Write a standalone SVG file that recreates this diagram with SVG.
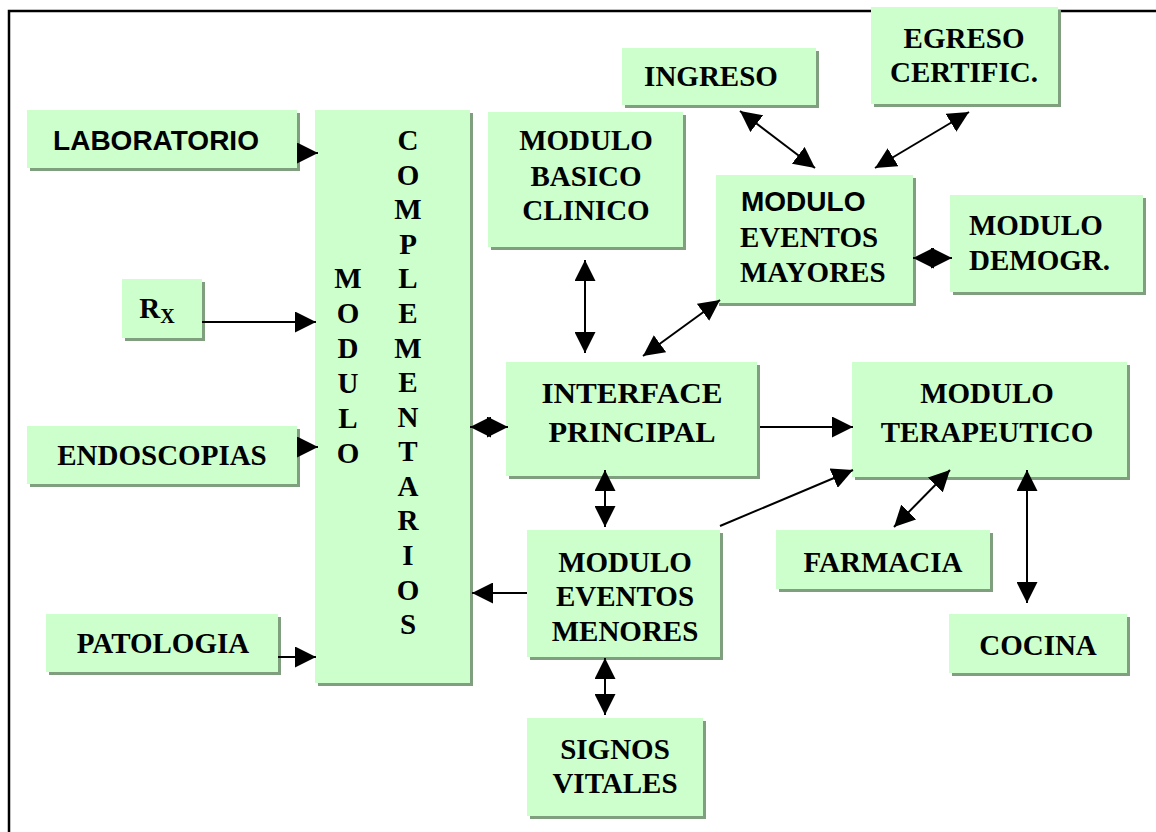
<svg xmlns="http://www.w3.org/2000/svg" width="1156" height="832" viewBox="0 0 1156 832">
<defs>
<style>
.box{fill:#ccffcc;}
.sh{fill:#7f9f7f;}
.t{font-family:"Liberation Serif","Times New Roman",serif;font-weight:bold;font-size:29px;fill:#000;text-anchor:middle;}
.ts{font-family:"Liberation Serif","Times New Roman",serif;font-weight:bold;font-size:29px;fill:#000;text-anchor:start;}
.a{font-family:"Liberation Sans",Arial,sans-serif;font-weight:bold;font-size:28px;fill:#000;}
.c{stroke:#000;stroke-width:2;fill:none;}
</style>
<marker id="ah" markerUnits="userSpaceOnUse" markerWidth="21" markerHeight="21" viewBox="0 0 21 21" refX="21" refY="10.5" orient="auto-start-reverse">
<path d="M0,0 L21,10.5 L0,21 z" fill="#000"/>
</marker>
</defs>
<rect width="1156" height="832" fill="#fff"/>
<path d="M9,832 V11 H1156" stroke="#000" stroke-width="2.5" fill="none"/>

<g id="laboratorio"><rect class="sh" x="30" y="113" width="270" height="58"/><rect class="box" x="27" y="110" width="270" height="58"/><text class="a" x="156" y="150" text-anchor="middle">LABORATORIO</text></g>
<g id="complementarios"><rect class="sh" x="318" y="113" width="155" height="573"/><rect class="box" x="315" y="110" width="155" height="573"/>
<text class="t" x="348" y="288">M</text><text class="t" x="348" y="323">O</text><text class="t" x="348" y="358">D</text><text class="t" x="348" y="393">U</text><text class="t" x="348" y="428">L</text><text class="t" x="348" y="463">O</text>
<text class="t" x="408" y="150">C</text><text class="t" x="408" y="185">O</text><text class="t" x="408" y="219">M</text><text class="t" x="408" y="254">P</text><text class="t" x="408" y="288">L</text><text class="t" x="408" y="323">E</text><text class="t" x="408" y="358">M</text><text class="t" x="408" y="392">E</text><text class="t" x="408" y="427">N</text><text class="t" x="408" y="461">T</text><text class="t" x="408" y="496">A</text><text class="t" x="408" y="530">R</text><text class="t" x="408" y="565">I</text><text class="t" x="408" y="600">O</text><text class="t" x="408" y="634">S</text></g>
<g id="rx"><rect class="sh" x="125" y="282" width="80" height="59"/><rect class="box" x="122" y="279" width="80" height="59"/><text class="t" x="157" y="318">R<tspan font-size="20" dy="5">X</tspan></text></g>
<g id="endoscopias"><rect class="sh" x="30" y="429" width="270" height="58"/><rect class="box" x="27" y="426" width="270" height="58"/><text class="t" x="162" y="465">ENDOSCOPIAS</text></g>
<g id="patologia"><rect class="sh" x="49" y="617" width="232" height="58"/><rect class="box" x="46" y="614" width="232" height="58"/><text class="t" x="163" y="653">PATOLOGIA</text></g>
<g id="basico"><rect class="sh" x="491" y="115" width="195" height="135"/><rect class="box" x="488" y="112" width="195" height="135"/><text class="t" x="586" y="150">MODULO</text><text class="t" x="586" y="186">BASICO</text><text class="t" x="586" y="220">CLINICO</text></g>
<g id="ingreso"><rect class="sh" x="625" y="51" width="194" height="57"/><rect class="box" x="622" y="48" width="194" height="57"/><text class="t" x="711" y="86">INGRESO</text></g>
<g id="egreso"><rect class="sh" x="874" y="10" width="187" height="97"/><rect class="box" x="871" y="7" width="187" height="97"/><text class="t" x="964" y="48">EGRESO</text><text class="t" x="964" y="82">CERTIFIC.</text></g>
<g id="mayores"><rect class="sh" x="719" y="178" width="197" height="128"/><rect class="box" x="716" y="175" width="197" height="128"/><text class="a" x="741" y="211">MODULO</text><text class="ts" x="740" y="247">EVENTOS</text><text class="ts" x="740" y="282">MAYORES</text></g>
<g id="demogr"><rect class="sh" x="953" y="198" width="193" height="97"/><rect class="box" x="950" y="195" width="193" height="97"/><text class="ts" x="969" y="235">MODULO</text><text class="ts" x="969" y="270">DEMOGR.</text></g>
<g id="interface"><rect class="sh" x="509" y="365" width="251" height="114"/><rect class="box" x="506" y="362" width="251" height="114"/><text class="t" x="632" y="403" textLength="181" lengthAdjust="spacingAndGlyphs">INTERFACE</text><text class="t" x="632" y="442" textLength="167" lengthAdjust="spacingAndGlyphs">PRINCIPAL</text></g>
<g id="terapeutico"><rect class="sh" x="855" y="365" width="275" height="115"/><rect class="box" x="852" y="362" width="275" height="115"/><text class="t" x="987" y="403">MODULO</text><text class="t" x="987" y="442">TERAPEUTICO</text></g>
<g id="farmacia"><rect class="sh" x="779" y="533" width="214" height="59"/><rect class="box" x="776" y="530" width="214" height="59"/><text class="t" x="883" y="572">FARMACIA</text></g>
<g id="cocina"><rect class="sh" x="952" y="617" width="178" height="59"/><rect class="box" x="949" y="614" width="178" height="59"/><text class="t" x="1038" y="655">COCINA</text></g>
<g id="menores"><rect class="sh" x="530" y="533" width="193" height="127"/><rect class="box" x="527" y="530" width="193" height="127"/><text class="t" x="625" y="572">MODULO</text><text class="t" x="625" y="606">EVENTOS</text><text class="t" x="625" y="641">MENORES</text></g>
<g id="signos"><rect class="sh" x="530" y="721" width="176" height="98"/><rect class="box" x="527" y="718" width="176" height="98"/><text class="t" x="615" y="759">SIGNOS</text><text class="t" x="615" y="793">VITALES</text></g>

<g id="connectors" class="c">
<line x1="298" y1="153" x2="318" y2="153" marker-end="url(#ah)"/>
<line x1="202" y1="322" x2="316" y2="322" marker-end="url(#ah)"/>
<line x1="298" y1="447" x2="318" y2="447" marker-end="url(#ah)"/>
<line x1="278" y1="657" x2="316" y2="657" marker-end="url(#ah)"/>
<line x1="470" y1="427" x2="508" y2="427" marker-start="url(#ah)" marker-end="url(#ah)"/>
<line x1="527" y1="593" x2="472" y2="593" marker-end="url(#ah)"/>
<line x1="585" y1="260" x2="585" y2="353" marker-start="url(#ah)" marker-end="url(#ah)"/>
<line x1="643" y1="356" x2="720" y2="300" marker-start="url(#ah)" marker-end="url(#ah)"/>
<line x1="740" y1="111" x2="815" y2="168" marker-start="url(#ah)" marker-end="url(#ah)"/>
<line x1="969" y1="112" x2="875" y2="168" marker-start="url(#ah)" marker-end="url(#ah)"/>
<line x1="913" y1="258" x2="952" y2="258" marker-start="url(#ah)" marker-end="url(#ah)"/>
<line x1="760" y1="427" x2="853" y2="427" marker-end="url(#ah)"/>
<line x1="720" y1="526" x2="853" y2="470" marker-end="url(#ah)"/>
<line x1="605" y1="470" x2="605" y2="527" marker-start="url(#ah)" marker-end="url(#ah)"/>
<line x1="950" y1="470" x2="894" y2="527" marker-start="url(#ah)" marker-end="url(#ah)"/>
<line x1="1027" y1="470" x2="1027" y2="603" marker-start="url(#ah)" marker-end="url(#ah)"/>
<line x1="605" y1="658" x2="605" y2="715" marker-start="url(#ah)" marker-end="url(#ah)"/>
</g>
</svg>
